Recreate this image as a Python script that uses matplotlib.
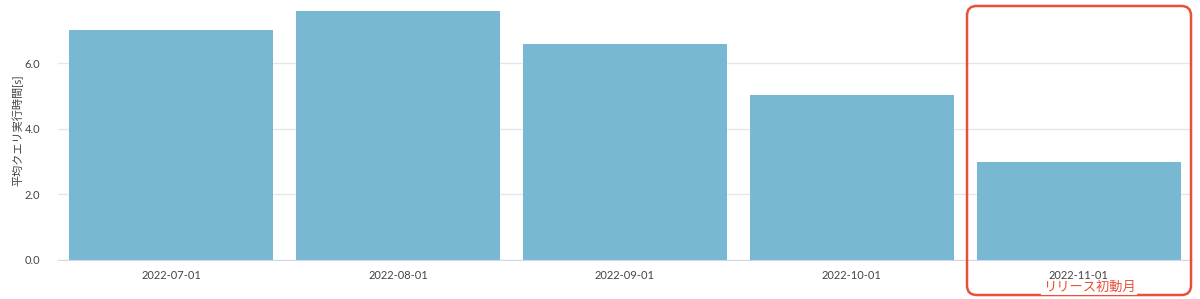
import matplotlib
matplotlib.use("Agg")
import matplotlib.pyplot as plt
from matplotlib.patches import FancyBboxPatch

plt.rcParams['font.family'] = ['Lato', 'Noto Sans CJK JP', 'DejaVu Sans']

months = ["2022-07-01", "2022-08-01", "2022-09-01", "2022-10-01", "2022-11-01"]
avg_query_sec = [7.0, 7.58, 6.58, 5.03, 2.98]
y_ticks = [0.0, 2.0, 4.0, 6.0]

W, H = 1200, 299
fig = plt.figure(figsize=(W / 100, H / 100), dpi=100)
ax = fig.add_axes([58 / W, 1 - 260 / H, (1192 - 58) / W, 260 / H])

x = list(range(len(months)))
ax.bar(x, avg_query_sec, width=0.9, color="#78b8d2", zorder=2)
ax.set_xlim(-0.5, len(months) - 0.5)
ax.set_ylim(0, 7.92)
ax.set_yticks(y_ticks)
ax.set_yticklabels([f"{v:.1f}" for v in y_ticks])
ax.set_xticks(x)
ax.set_xticklabels(months)
ax.tick_params(axis="both", length=0, labelsize=8, colors="#444444")
ax.tick_params(axis="y", pad=13)
ax.tick_params(axis="x", pad=7)
ax.grid(axis="y", color="#e6e6ea", lw=1, zorder=0)
for s in ["top", "right", "left"]:
    ax.spines[s].set_visible(False)
ax.spines["bottom"].set_color("#d0d8ea")
ax.set_ylabel("平均クエリ実行時間[s]", fontsize=8, color="#444444")
ax.yaxis.set_label_coords(-0.030, 0.50)

# highlight box around release month
box = FancyBboxPatch((967 / W, 1 - 295 / H), (1191 - 967) / W, (295 - 6) / H,
                     boxstyle="round,pad=0,rounding_size=0.008",
                     transform=fig.transFigure, fill=False,
                     edgecolor="#e8503a", lw=1.8, mutation_aspect=W / H)
fig.patches.append(box)
fig.text(1089 / W, 1 - 287 / H, "リリース初動月", color="#e8503a", fontsize=9.5,
         ha="center", va="center",
         bbox=dict(facecolor="white", edgecolor="none", pad=1.5))

fig.savefig("out.png", dpi=100)
